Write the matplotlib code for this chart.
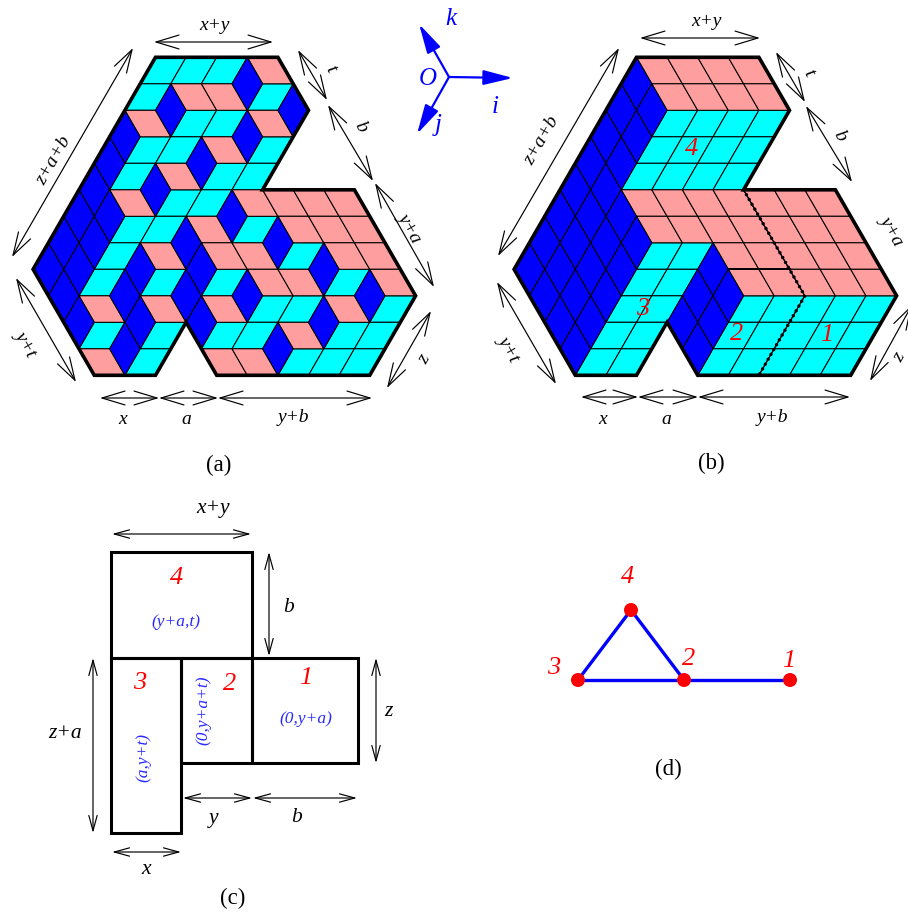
import matplotlib
matplotlib.use("Agg")
import matplotlib.pyplot as plt
from matplotlib.patches import Polygon, Circle, Rectangle

# lattice: h counts half steps to the right, r counts rows down
X0, Y0, DX, DY = 155.5, 57.3, 15.3, 26.5
OFFSET_B = 481

CYAN = "#00ffff"
PINK = "#ff9e9e"
BLUE = "#0000ff"
RED = "#ff0000"
TEXT_BLUE = "#2a2aff"

outline = [(0, 0), (8, 0), (10, 2), (7, 5), (13, 5), (17, 9), (14, 12), (4, 12),
           (2, 10), (0, 12), (-4, 12), (-8, 8)]

# panel (a), top left corner of each tile
a_cyan = [(0, 0), (2, 0), (4, 0), (-1, 1), (7, 1), (2, 2), (4, 2), (-1, 3), (1, 3), (7, 3),
          (-2, 4), (4, 4), (6, 4), (1, 5), (3, 5), (-2, 6), (0, 6), (6, 6), (-3, 7), (9, 7),
          (-4, 8), (0, 8), (4, 8), (12, 8), (7, 9), (9, 9), (15, 9), (-4, 10), (0, 10), (4, 10),
          (6, 10), (12, 10), (14, 10), (-1, 11), (9, 11), (11, 11), (13, 11)]
a_pink = [(6, 0), (1, 1), (3, 1), (-2, 2), (6, 2), (3, 3), (0, 4), (-3, 5), (5, 5), (7, 5),
          (9, 5), (11, 5), (2, 6), (8, 6), (10, 6), (12, 6), (-1, 7), (3, 7), (5, 7), (11, 7),
          (13, 7), (6, 8), (8, 8), (14, 8), (-5, 9), (-1, 9), (3, 9), (11, 9), (8, 10),
          (-5, 11), (3, 11), (5, 11)]
a_blue = [(6, 0), (1, 1), (9, 1), (-2, 2), (6, 2), (-3, 3), (3, 3), (-4, 4), (0, 4), (-5, 5),
          (-3, 5), (5, 5), (-6, 6), (-4, 6), (2, 6), (8, 6), (-7, 7), (-5, 7), (-1, 7), (3, 7),
          (11, 7), (-6, 8), (-2, 8), (2, 8), (6, 8), (14, 8), (-5, 9), (-1, 9), (3, 9), (11, 9),
          (-2, 10), (8, 10)]

# panel (b)
b_cyan = [(2, 2), (4, 2), (6, 2), (8, 2), (1, 3), (3, 3), (5, 3), (7, 3), (0, 4), (2, 4),
          (4, 4), (6, 4), (1, 7), (3, 7), (0, 8), (2, 8), (-1, 9), (1, 9), (-2, 10), (0, 10),
          (-3, 11), (-1, 11), (7, 9), (9, 9), (11, 9), (13, 9), (15, 9), (6, 10), (8, 10),
          (10, 10), (12, 10), (14, 10), (5, 11), (7, 11), (9, 11), (11, 11), (13, 11)]
b_pink = [(0, 0), (2, 0), (4, 0), (6, 0), (1, 1), (3, 1), (5, 1), (7, 1), (-1, 5), (1, 5),
          (3, 5), (5, 5), (7, 5), (9, 5), (11, 5), (0, 6), (2, 6), (4, 6), (6, 6), (8, 6),
          (10, 6), (12, 6), (5, 7), (7, 7), (9, 7), (11, 7), (13, 7), (6, 8), (8, 8), (10, 8),
          (12, 8), (14, 8)]
b_blue = [(0, 0), (-1, 1), (-2, 2), (1, 1), (0, 2), (-1, 3), (-3, 3), (-4, 4), (-5, 5), (-6, 6),
          (-7, 7), (-2, 4), (-3, 5), (-4, 6), (-5, 7), (-6, 8), (-1, 5), (-2, 6), (-3, 7),
          (-4, 8), (-5, 9), (0, 6), (-1, 7), (-2, 8), (-3, 9), (-4, 10), (5, 7), (4, 8), (3, 9),
          (6, 8), (5, 9), (4, 10)]
b_dotted = [(7, 5), (11, 9), (8, 12)]
b_heavy = [(6, 8), (10, 8)]

# dimension arrows: start, end, label, label position, rotation
a_dims = [((154, 42), (273, 42), "x+y", (214, 26), 0),
          ((133, 48), (12, 257), "z+a+b", (54, 161), 60),
          ((16, 278), (76, 382), "y+t", (26, 343), -60),
          ((100, 398), (159, 398), "x", (123, 420), 0),
          ((159, 398), (218, 398), "a", (186, 420), 0),
          ((218, 398), (372, 398), "y+b", (293, 418), 0),
          ((431, 311), (387, 388), "z", (424, 359), 60),
          ((375, 183), (434, 287), "y+a", (410, 227), -60),
          ((328, 105), (373, 181), "b", (361, 127), -60),
          ((298, 50), (327, 100), "t", (330, 69), -60)]
b_dims = [((640, 38), (760, 38), "x+y", (706, 21), 0),
          ((619, 48), (498, 256), "z+a+b", (542, 141), 60),
          ((497, 282), (556, 384), "y+t", (509, 348), -60),
          ((581, 397), (638, 397), "x", (603, 420), 0),
          ((638, 397), (698, 397), "a", (666, 420), 0),
          ((698, 397), (850, 397), "y+b", (772, 418), 0),
          ((776, 52), (805, 102), "t", (808, 73), -60),
          ((806, 106), (852, 182), "b", (840, 136), -60),
          ((853, 183), (912, 287), "y+a", (892, 230), -60),
          ((912, 305), (870, 381), "z", (899, 357), 60)]
c_dims = [((112, 534), (251, 534), "x+y", (213, 508), 0),
          ((269, 552), (269, 656), "b", (289, 607), 0),
          ((93, 658), (93, 833), "z+a", (65, 733), 0),
          ((376, 658), (376, 763), "z", (388, 712), 0),
          ((183, 798), (252, 798), "y", (214, 818), 0),
          ((253, 798), (357, 798), "b", (297, 818), 0),
          ((112, 852), (181, 852), "x", (146, 869), 0)]

# panel (c) rectangles: left, top, right, bottom
c_rects = [(111, 552, 252, 658), (111, 658, 181, 833), (181, 658, 252, 763), (252, 658, 358, 763)]
c_names = [("4", (177, 578)), ("3", (140, 683)), ("2", (230, 684)), ("1", (306, 678))]
c_sizes = [("(y+a,t)", (176, 622), 0), ("(a,y+t)", (143, 757), 90),
           ("(0,y+a+t)", (203, 710), 90), ("(0,y+a)", (306, 719), 0)]
b_names = [("4", (692, 149)), ("3", (643, 309)), ("2", (737, 334)), ("1", (827, 335))]

# panel (d)
d_nodes = [(790, 680), (684, 680), (578, 680), (631, 610)]
d_edges = [(0, 1), (1, 2), (1, 3), (2, 3)]
d_names = [("1", (789, 661)), ("2", (689, 659)), ("3", (554, 668)), ("4", (628, 577))]

# compass
origin = (449, 77)
axis_tips = [(513, 78), (419, 24), (417, 134)]
axis_names = [("i", (495, 107)), ("k", (451, 19)), ("j", (438, 125)), ("O", (428, 79))]

captions = [("(a)", (219, 465)), ("(b)", (711, 463)), ("(c)", (233, 898)), ("(d)", (668, 769))]


def lattice(h, r, dx=0):
    return (X0 + dx + h * DX, Y0 + r * DY)


def draw_tiles(ax, tiles, shape, color, dx):
    for h, r in tiles:
        pts = [lattice(h + a, r + b, dx) for a, b in shape]
        ax.add_patch(Polygon(pts, closed=True, fc=color, ec="black", lw=0.75, joinstyle="miter"))


def draw_hexagon(ax, cyan, pink, blue, dx):
    draw_tiles(ax, cyan, [(0, 0), (2, 0), (1, 1), (-1, 1)], CYAN, dx)
    draw_tiles(ax, pink, [(0, 0), (2, 0), (3, 1), (1, 1)], PINK, dx)
    draw_tiles(ax, blue, [(0, 0), (1, 1), (0, 2), (-1, 1)], BLUE, dx)
    pts = [lattice(h, r, dx) for h, r in outline]
    ax.add_patch(Polygon(pts, closed=True, fc="none", ec="black", lw=2.6, joinstyle="miter"))


def draw_dims(ax, dims, size, head_len=1.65, head_wid=0.5):
    for start, end, label, pos, rot in dims:
        style = "<->,head_length=%s,head_width=%s" % (head_len, head_wid)
        ax.annotate("", xy=end, xytext=start,
                    arrowprops=dict(arrowstyle=style, lw=0.85, color="black",
                                    shrinkA=0, shrinkB=0, mutation_scale=10))
        write(ax, label, pos, size, "black", rot)


def write(ax, label, pos, size, color, rot=0, style="italic"):
    ax.text(pos[0], pos[1], label, fontsize=size, color=color, rotation=rot, style=style,
            family="Liberation Serif", ha="center", va="center", rotation_mode="anchor")


fig = plt.figure(figsize=(9.08, 9.15), dpi=100)
ax = fig.add_axes([0, 0, 1, 1])
ax.set_xlim(0, 908)
ax.set_ylim(915, 0)
ax.axis("off")

draw_hexagon(ax, a_cyan, a_pink, a_blue, 0)
draw_hexagon(ax, b_cyan, b_pink, b_blue, OFFSET_B)

heavy = [lattice(h, r, OFFSET_B) for h, r in b_heavy]
ax.plot([p[0] for p in heavy], [p[1] for p in heavy], color="black", lw=1.4)
dots = [lattice(h, r, OFFSET_B) for h, r in b_dotted]
ax.plot([p[0] for p in dots], [p[1] for p in dots], color="black", lw=0.8)
ax.plot([p[0] for p in dots], [p[1] for p in dots], color="black", lw=2.5,
        linestyle=(0, (0.01, 1.6)), dash_capstyle="round")

draw_dims(ax, a_dims, 14)
draw_dims(ax, b_dims, 14)

for label, pos in b_names:
    write(ax, label, pos, 19, RED)

# compass
for tip in axis_tips:
    ax.annotate("", xy=tip, xytext=origin,
                arrowprops=dict(arrowstyle="-|>,head_length=1.8,head_width=0.45", lw=1.6,
                                color=BLUE, shrinkA=0, shrinkB=0, mutation_scale=10))
for label, pos in axis_names:
    write(ax, label, pos, 18, BLUE)

# panel (c)
for left, top, right, bottom in c_rects:
    ax.add_patch(Rectangle((left, top), right - left, bottom - top, fc="none", ec="black",
                           lw=2.2, joinstyle="miter"))
draw_dims(ax, c_dims, 15.5, head_len=1.1, head_wid=0.3)
for label, pos in c_names:
    write(ax, label, pos, 19, RED)
for label, pos, rot in c_sizes:
    write(ax, label, pos, 12.5, TEXT_BLUE, rot)

# panel (d)
for i, j in d_edges:
    ax.plot([d_nodes[i][0], d_nodes[j][0]], [d_nodes[i][1], d_nodes[j][1]], color=BLUE, lw=2.4)
for node in d_nodes:
    ax.add_patch(Circle(node, 7, fc=RED, ec="none", zorder=3))
for label, pos in d_names:
    write(ax, label, pos, 19, RED)

for label, pos in captions:
    write(ax, label, pos, 16.5, "black", style="normal")

fig.savefig("out.png", dpi=100)
